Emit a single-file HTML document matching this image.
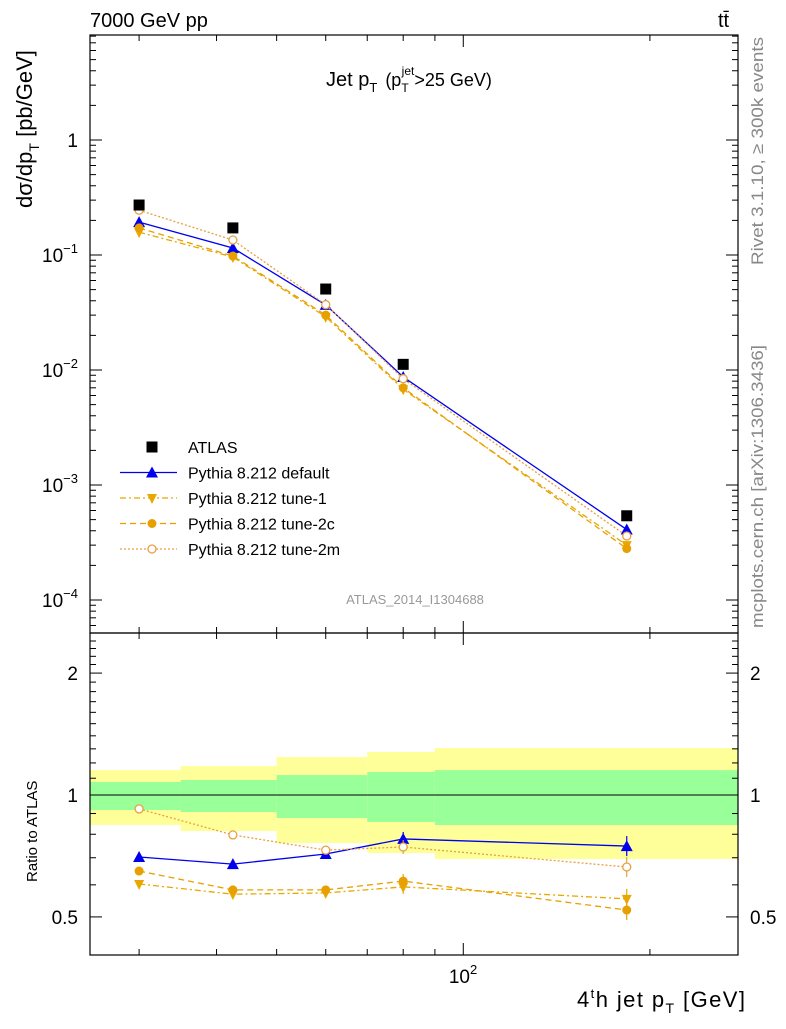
<!DOCTYPE html>
<html><head><meta charset="utf-8"><style>
body{margin:0;background:#fff;}
svg text{font-family:"Liberation Sans",sans-serif;}
</style></head><body>
<svg id="c" width="786" height="1024" xmlns="http://www.w3.org/2000/svg"></svg>
<script>
const binEdges=[25,35,50,70,90,277];
const xCenters=[30,42.5,60,80,183.5];
const atlas=[0.272,0.172,0.0506,0.0112,0.00054];
const pyDefault=[0.193,0.115,0.0368,0.0087,0.00041];
const pyTune1=[0.158,0.096,0.029,0.0068,0.00030];
const pyTune2c=[0.172,0.098,0.030,0.0070,0.00028];
const pyTune2m=[0.245,0.135,0.037,0.0084,0.00036];
const rDefault=[0.703,0.675,0.715,0.779,0.748];
const rTune1=[0.603,0.569,0.573,0.593,0.554];
const rTune2c=[0.649,0.583,0.583,0.613,0.520];
const rTune2m=[0.924,0.797,0.731,0.744,0.664];
const bandYelLo=[0.843,0.815,0.761,0.719,0.695];
const bandYelHi=[1.152,1.179,1.241,1.277,1.306];
const bandGrnLo=[0.918,0.908,0.877,0.858,0.843];
const bandGrnHi=[1.077,1.089,1.120,1.140,1.152];
const yTickExp=[-4,-3,-2,-1,0];
const rTicks=[0.5,1,2];

const NS="http://www.w3.org/2000/svg";
const svg=document.getElementById('c');
function el(t,a,p){const e=document.createElementNS(NS,t);for(const k in a)e.setAttribute(k,a[k]);(p||svg).appendChild(e);return e;}
const X0=90,X1=738,T=35,M=633,B=955;
const xs=v=>X0+Math.log10(v/25)*620;
const ys=v=>140-Math.log10(v)*115;
const rs=v=>795-Math.log10(v)*405;

for(let i=0;i<5;i++){
 const a=xs(binEdges[i]),b=Math.min(X1,xs(binEdges[i+1]));
 const y=el('rect',{x:a,y:rs(bandYelHi[i]),width:b-a,height:rs(bandYelLo[i])-rs(bandYelHi[i]),fill:'#ffff99'});
 
 
 const g=el('rect',{x:a,y:rs(bandGrnHi[i]),width:b-a,height:rs(bandGrnLo[i])-rs(bandGrnHi[i]),fill:'#99ff99'});
 
 
}
el('line',{x1:X0,x2:X1,y1:rs(1),y2:rs(1),stroke:'#000','stroke-width':1});

el('rect',{x:X0,y:T,width:X1-X0,height:M-T,fill:'none',stroke:'#000','stroke-width':1.2});
el('rect',{x:X0,y:M,width:X1-X0,height:B-M,fill:'none',stroke:'#000','stroke-width':1.2});

const xt=[30,40,50,60,70,80,90,100,200];
for(const v of xt){const x=xs(v),L=v==100?12:6;
 for(const [a,b] of [[T,M],[M,B]]){el('line',{x1:x,x2:x,y1:b,y2:b-L,stroke:'#000'});el('line',{x1:x,x2:x,y1:a,y2:a+L,stroke:'#000'});}}
for(let e=-5;e<=0;e++){for(let m=1;m<10;m++){const v=m*Math.pow(10,e),y=ys(v);if(y<T||y>M)continue;const L=m==1?12:6;
 el('line',{x1:X0,x2:X0+L,y1:y,y2:y,stroke:'#000'});el('line',{x1:X1,x2:X1-L,y1:y,y2:y,stroke:'#000'});}}
for(const e of yTickExp){const t=el('text',{x:78,y:ys(Math.pow(10,e))+7,'font-size':19,'text-anchor':'end'});
 
 if(e==0)t.textContent='1';else{t.textContent='10';const s=el('tspan',{'font-size':13,dy:-9},t);s.textContent=String(e).replace('-','−');}}
for(let v=0.4;v<=2.5;v+=0.1){const y=rs(v);if(y<M||y>B)continue;const maj=[0.5,1,2].some(q=>Math.abs(q-v)<1e-6);const L=maj?12:6;
 el('line',{x1:X0,x2:X0+L,y1:y,y2:y,stroke:'#000'});el('line',{x1:X1,x2:X1-L,y1:y,y2:y,stroke:'#000'});}
for(const v of rTicks){for(const [x,a] of [[78,'end'],[750,'start']]){const t=el('text',{x:x,y:rs(v)+7,'font-size':19,'text-anchor':a});t.textContent=String(v);
 }}
const xl=el('text',{x:463,y:983,'font-size':19,'text-anchor':'middle'});xl.textContent='10';el('tspan',{'font-size':13,dy:-9},xl).textContent='2';


const series=[
 {name:'default',v:pyDefault,r:rDefault,c:'#0000ee',d:'',m:'tri'},
 {name:'tune-1',v:pyTune1,r:rTune1,c:'#e8a800',d:'6,3,2,3',m:'tridown'},
 {name:'tune-2c',v:pyTune2c,r:rTune2c,c:'#e8a000',d:'6,4',m:'dot'},
 {name:'tune-2m',v:pyTune2m,r:rTune2m,c:'#e8a040',d:'2,2',m:'circ'}];
function marker(type,x,y,c,name){let e;
 if(type=='tri')e=el('polygon',{points:`${x},${y-6} ${x-6},${y+5} ${x+6},${y+5}`,fill:c});
 else if(type=='tridown')e=el('polygon',{points:`${x},${y+6} ${x-5},${y-4} ${x+5},${y-4}`,fill:c});
 else if(type=='dot')e=el('circle',{cx:x,cy:y,r:4.5,fill:c});
 else if(type=='circ')e=el('circle',{cx:x,cy:y,r:4,fill:'#fff',stroke:c,'stroke-width':1.3});
 else e=el('rect',{x:x-5.5,y:y-5.5,width:11,height:11,fill:c});
 }
for(const s of series){
 const p1=el('polyline',{points:xCenters.map((x,i)=>xs(x)+','+ys(s.v[i])).join(' '),fill:'none',stroke:s.c,'stroke-width':1.3,'stroke-dasharray':s.d});
 
 const p2=el('polyline',{points:xCenters.map((x,i)=>xs(x)+','+rs(s.r[i])).join(' '),fill:'none',stroke:s.c,'stroke-width':1.3,'stroke-dasharray':s.d});
 
 xCenters.forEach((x,i)=>{
  if(i>=3){const eb=el('line',{x1:xs(x),x2:xs(x),y1:rs(s.r[i])-(i==4?10:7),y2:rs(s.r[i])+(i==4?10:7),stroke:s.c,'stroke-width':1.2});
   }
  marker(s.m,xs(x),ys(s.v[i]),s.c,'point-'+s.name);marker(s.m,xs(x),rs(s.r[i]),s.c,'ratio-point-'+s.name);});
}
xCenters.forEach((x,i)=>marker('sq',xs(x),ys(atlas[i]),'#000','point-atlas'));

const leg=[['ATLAS','#000','','sq'],['Pythia 8.212 default','#0000ee','','tri'],['Pythia 8.212 tune-1','#e8a800','6,3,2,3','tridown'],['Pythia 8.212 tune-2c','#e8a000','6,4','dot'],['Pythia 8.212 tune-2m','#e8a040','2,2','circ']];
leg.forEach((l,i)=>{const y=447+i*25.5;
 if(i>0){const ln=el('line',{x1:120,x2:177,y1:y,y2:y,stroke:l[1],'stroke-width':1.3,'stroke-dasharray':l[2]});}
 marker(l[3],152,y,l[1],'legend-marker');
 const t=el('text',{x:188,y:y+6,'font-size':16});t.textContent=l[0];});

function txt(x,y,s,attrs,name){const t=el('text',Object.assign({x:x,y:y},attrs));t.textContent=s;return t;}
txt(90,27,'7000 GeV pp',{'font-size':20},'energy-label');
txt(718,27,'tt̄',{'font-size':20},'process-label');
const tt=txt(326,86,'Jet p',{'font-size':20},'plot-title');
el('tspan',{'font-size':13,dy:6},tt).textContent='T';
el('tspan',{'font-size':18,dy:-6,dx:3},tt).textContent=' (p';
el('tspan',{'font-size':12,dy:6},tt).textContent='T';
el('tspan',{'font-size':12,dy:-17,dx:-7},tt).textContent='jet';
el('tspan',{'font-size':18,dy:11},tt).textContent='>25 GeV)';
txt(415,604,'ATLAS_2014_I1304688',{'font-size':13,fill:'#999','text-anchor':'middle'},'analysis-id');
const yl=txt(0,0,'dσ/dp',{'font-size':22,transform:'translate(32,208) rotate(-90)'},'y-axis-title');
el('tspan',{'font-size':14,dy:7},yl).textContent='T';
el('tspan',{'font-size':22,dy:-7},yl).textContent='  [pb/GeV]';
txt(0,0,'Ratio to ATLAS',{'font-size':15,transform:'translate(37,882) rotate(-90)'},'ratio-axis-title');
const xa=txt(577,1007,'4',{'font-size':22,textLength:168,lengthAdjust:'spacing'},'x-axis-title');
el('tspan',{'font-size':13,dy:-9},xa).textContent='t';
el('tspan',{'font-size':22,dy:9},xa).textContent='h jet p';
el('tspan',{'font-size':14,dy:6},xa).textContent='T';
el('tspan',{'font-size':22,dy:-6},xa).textContent=' [GeV]';
txt(0,0,'Rivet 3.1.10, ≥ 300k events',{'font-size':17,fill:'#888',textLength:228,lengthAdjust:'spacingAndGlyphs',transform:'translate(763,265) rotate(-90)'},'rivet-label');
txt(0,0,'mcplots.cern.ch [arXiv:1306.3436]',{'font-size':17,fill:'#888',textLength:283,lengthAdjust:'spacingAndGlyphs',transform:'translate(763,628) rotate(-90)'},'mcplots-label');
</script>
</body></html>
